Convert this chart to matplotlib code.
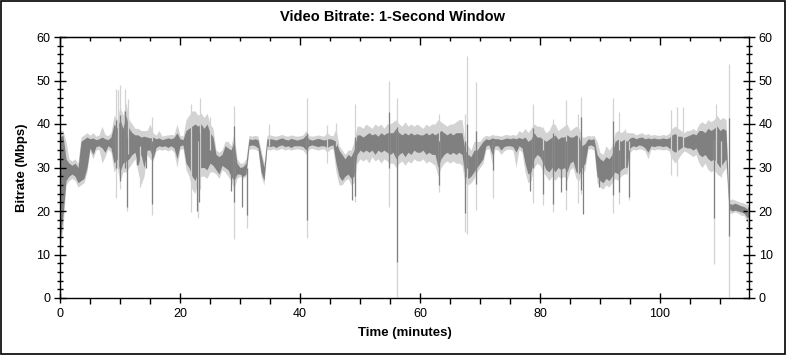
import matplotlib
matplotlib.use('Agg')
import matplotlib.pyplot as plt
import numpy as np

matplotlib.rcParams['font.family'] = ['Liberation Sans', 'DejaVu Sans']

# time grid, one sample every half minute (0 .. 115 min)
time_min = np.arange(0, 115.5, 0.5)

# dark gray band (typical bitrate range), Mbps
dark_lo = [
    13, 19, 27, 28, 28.5, 28, 26.5, 27, 27.5, 30,
    34.5, 33, 34.8, 35, 34.5, 33.5, 35, 34.5, 31, 32,
    29, 31, 31.5, 32, 33, 33.5, 30.5, 33, 30, 34,
    34, 32, 34.6, 35, 34.8, 35, 34.6, 35, 34.5, 32,
    35, 35.2, 31, 30, 28, 27, 29, 30, 30, 29.5,
    31, 30.5, 29.5, 28.5, 30.5, 30, 29.5, 28, 27, 28.5,
    28.5, 28, 28.5, 35, 35.2, 35, 34.5, 29, 27, 35,
    34.8, 35, 34.6, 35, 35.2, 34.8, 35, 34.6, 35, 35,
    35, 34.8, 34, 35, 35.2, 35, 34.8, 35, 35, 34.6,
    35, 35.2, 31, 28, 27, 28, 28.5, 27.5, 28, 33,
    34, 33.5, 34, 33.5, 34, 33, 34, 33.5, 34, 33.5,
    33, 33.5, 32, 33, 33.5, 32.5, 33.5, 33, 34, 33.5,
    33.5, 34, 33, 33.5, 33, 33, 30, 32, 33, 33.5,
    33, 33.5, 33, 33.5, 33, 28, 27.5, 28, 29, 30,
    31, 32, 35, 35.2, 33, 35, 35, 34, 34.8, 35,
    35, 34.8, 33.5, 35, 34.5, 31, 28.5, 29, 32, 33,
    32.5, 31, 29.5, 29, 30, 29, 30, 29.5, 30, 29,
    31, 31.5, 29, 28.5, 30, 31, 35, 35.2, 34.8, 28,
    27, 26.5, 27.5, 27, 28, 29, 28.5, 29.5, 30, 30,
    34.5, 35, 34.8, 35.2, 35, 34.5, 33.5, 35, 34.8, 35,
    35, 34.8, 35, 34.5, 34, 33.5, 34, 34.5, 34.8, 34.5,
    34.5, 34, 34.5, 33, 32.5, 33, 32, 31.5, 32, 31,
    30, 31, 32, 20.5, 20, 20.2, 20, 19.8, 19.5, 18.5, 18.5,
]
dark_hi = [
    37, 37.5, 32, 31, 30.5, 31, 30, 36, 36.5, 37,
    36.6, 36.8, 36.4, 36.6, 37, 36.6, 36.4, 37, 40, 39,
    41, 39, 42, 39, 38, 37.5, 37.5, 37, 37.2, 37,
    36.8, 37, 36.6, 36.8, 36.4, 36.6, 36.8, 36.6, 36.9, 38,
    36.6, 36.4, 38.5, 39, 39.5, 40, 39.5, 40, 39, 40,
    38, 37, 33, 32.5, 33, 35, 34.5, 34, 36, 31,
    30, 30.2, 31, 36.6, 36.4, 36.6, 36.4, 33, 30, 36.6,
    36.6, 36.5, 36.3, 36.6, 36.8, 36.5, 36.3, 36.7, 36.5, 36.3,
    36.5, 36.7, 37.5, 36.5, 36.3, 36.5, 36.7, 36.5, 36.3, 36.6,
    36.6, 36.4, 36, 34, 33, 32, 33, 32.5, 34, 37.5,
    37.5, 37, 37.5, 38, 37.5, 37.8, 37.2, 38, 37.5, 38,
    38, 38, 39, 38, 37.5, 38, 37.5, 38, 37.5, 37.8,
    37.5, 37.5, 38, 37.5, 38, 37.5, 38, 38.5, 38, 37.5,
    38, 37.5, 38, 38, 38, 34, 33, 32.5, 34, 34,
    35, 36, 36.6, 36.4, 36.8, 36.6, 36.6, 36.4, 36.6, 36.8,
    36.6, 36.8, 36.6, 36.9, 36.6, 37, 36, 36.5, 38, 37,
    37, 36.5, 36, 36.5, 37, 37.5, 36.5, 37, 37, 37.5,
    37, 37, 37.5, 37, 35, 35.5, 36.6, 36.4, 36.6, 33,
    32, 31.5, 32.5, 32, 33, 36, 36.5, 36, 36.5, 36,
    36.8, 37, 36.6, 36.9, 37, 36.6, 36.8, 36.6, 36.8, 36.6,
    36.6, 36.8, 36.6, 36.8, 37.5, 37.8, 37.2, 37.2, 36.9, 37.2,
    37.5, 37.8, 37.5, 38.5, 38.5, 38, 39, 38.5, 39, 39.5,
    38.5, 39, 38.5, 21.8, 21.5, 21.8, 21.5, 21.2, 21, 20.5, 20.5,
]

# light gray band (full min/max envelope), Mbps
light_lo = [
    11, 16, 26, 27, 27.5, 27, 25.5, 26, 26.5, 29,
    33.8, 32, 34, 34.2, 31, 32.5, 34.2, 33.5, 29, 30,
    27, 29, 29, 30, 31, 32, 29, 26, 28, 33,
    32, 31.5, 33.8, 34.2, 34, 34.2, 33.8, 34.2, 33.5, 30,
    34.2, 34.3, 29.5, 28, 25, 24, 27, 28, 28, 27.5,
    29, 29, 28.5, 27.5, 29.5, 29, 28, 27, 25, 27.5,
    28, 27.5, 28, 34.2, 34.3, 34.2, 33.8, 28, 26, 34.2,
    34, 34.3, 34, 34.2, 34.4, 34, 34.3, 34, 34.2, 34.3,
    34.2, 34, 33, 34.2, 34.4, 34.2, 34, 34.2, 34.3, 33.5,
    34.2, 34.3, 29, 26, 26, 27, 27.5, 26, 26.5, 31,
    32, 31.5, 32, 31, 32.5, 31.5, 32, 31, 32, 31.5,
    31, 31, 30, 31, 31.5, 30.5, 31.5, 31, 32, 31.5,
    31.5, 32, 31, 31.5, 31, 30.5, 28, 30, 31, 31.5,
    31, 31.5, 31, 31, 30.5, 26.5, 26, 26.5, 27.5, 29,
    30, 31, 34.2, 34.3, 31, 34.2, 34, 33, 33.8, 34.2,
    34.2, 34, 30, 34.2, 33.5, 29, 26.5, 27, 30, 31,
    30.5, 29, 28, 27, 28, 27, 28, 27.5, 28, 27,
    29.5, 30, 27.5, 27, 28.5, 29.5, 34.2, 34.3, 34, 26.5,
    25.5, 25, 26, 25.5, 26.5, 27.5, 27, 28, 28.5, 28.5,
    33.5, 34.2, 34, 34.3, 34.2, 33.8, 32, 34.2, 34, 34.2,
    34.2, 34, 34.2, 33.8, 32, 31, 32, 33, 33.8, 33.5,
    33, 32.5, 33, 31, 30, 31, 29.5, 29, 29.5, 28.5,
    28, 29, 30, 19.5, 19.5, 19.8, 19.5, 19, 19, 17.5, 17.5,
]
light_hi = [
    38.5, 38.5, 36, 32, 31.5, 32, 31, 37, 37.5, 38,
    37.4, 38, 37.2, 37.5, 39.5, 37.6, 37.3, 38, 42, 41,
    44, 42, 45, 41, 40, 39, 39, 38.5, 38.5, 38.5,
    40, 38, 37.4, 38.5, 37.2, 37.4, 37.5, 37.6, 37.5, 40,
    37.4, 37.2, 41, 42, 43, 43, 42, 42.5, 41.5, 42.5,
    40, 39, 34, 33.5, 34, 36, 36, 35, 38, 32,
    31, 31, 32, 37.4, 37.2, 37.4, 37.2, 34, 31, 37.4,
    37.5, 37.3, 37.2, 37.4, 37.6, 37.3, 37.2, 37.5, 37.3, 37.2,
    37.3, 37.5, 38.5, 37.3, 37.2, 37.3, 37.5, 37.3, 37.2, 38,
    37.4, 37.3, 39, 35, 34, 33, 34, 34, 36, 39.5,
    39.5, 39, 40, 39.5, 39, 40, 39.5, 40, 39, 40,
    40, 40.5, 41, 40, 39.5, 40.5, 39.5, 40, 39.5, 40,
    39.5, 39, 40, 39.5, 40, 40, 41, 40.5, 40, 39.5,
    40, 40, 40.5, 41, 41, 36, 35, 34, 36, 36,
    36, 37, 37.4, 37.2, 37.6, 37.4, 37.4, 37.2, 37.5, 37.6,
    37.4, 37.6, 37.4, 38.5, 38, 39, 38, 39, 40, 39.5,
    39.5, 39, 38, 38.5, 40, 40, 38.5, 39, 39.5, 40,
    38.5, 39, 39.5, 39, 37, 37, 37.4, 37.2, 37.4, 36,
    33.5, 33, 35, 34, 35, 38, 38.5, 38, 38.5, 38,
    38, 38, 37.5, 37.8, 38, 37.5, 37.8, 37.4, 37.6, 37.4,
    37.4, 37.6, 37.4, 37.8, 39, 39.5, 39, 38.5, 38, 38.5,
    38.5, 39, 38.5, 40, 40.5, 40, 41, 40.5, 41, 42,
    41, 41.5, 41, 22.5, 22.8, 22.5, 22.2, 22, 21.8, 21.5, 21.5,
]

# single-sample peaks and drops: (minute, low, high)
dark_spikes = [
    (9.3, 30, 41), (10.0, 27, 42), (10.9, 30, 43), (11.2, 21, 37),
    (12.9, 30.5, 36), (14.3, 30, 36), (15.3, 21.5, 36), (22.9, 20, 36),
    (23.1, 22, 38), (28.5, 24.5, 34), (29.0, 22, 39.5), (30.3, 21, 30),
    (31.1, 19, 30), (41.1, 18, 38), (48.6, 22.5, 30), (49.2, 23.5, 37),
    (54.9, 30, 42.7), (56.2, 8.3, 39.3), (63.2, 26, 36), (67.5, 19.5, 36),
    (67.9, 30, 40), (69.3, 26.3, 38.5), (72.1, 29.4, 36), (78.4, 24.5, 34),
    (78.9, 30, 39), (80.5, 24, 34), (82.2, 21.7, 38), (83.5, 24.4, 33),
    (84.4, 24.8, 36), (86.9, 24.8, 41.6), (87.2, 19.3, 33), (89.9, 25.5, 30),
    (92.1, 23.6, 40.7), (93.2, 24.4, 34), (94.8, 23.2, 34), (109.0, 18.4, 36),
    (111.5, 14.2, 41.4), (114.7, 18.6, 21),
]
light_spikes = [
    (9.3, 23, 48), (9.7, 30, 47.8), (10.0, 25, 49), (10.9, 30, 48),
    (11.2, 20, 30), (11.3, 33, 45.7), (13.4, 25.5, 35), (15.3, 19, 41.5),
    (21.9, 19.8, 44.6), (23.0, 18.5, 36), (23.4, 25, 46), (25.0, 34, 41.6),
    (29.0, 13.5, 44.2), (31.1, 16.2, 30), (34.8, 35, 40), (41.1, 13.8, 46),
    (44.5, 31, 39.7), (46.0, 35, 40.2), (49.2, 22, 44.7), (54.9, 21, 50),
    (56.2, 0.2, 46), (63.2, 24.4, 42.2), (67.5, 15.2, 42.4), (67.9, 14.8, 55.6),
    (69.3, 20.2, 49.7), (72.1, 22.9, 36), (78.9, 21.8, 44.7), (80.5, 21.3, 39.3),
    (82.2, 19.8, 41.2), (84.4, 20.3, 45.6), (86.3, 21.8, 42.2), (86.9, 24, 46.2),
    (92.1, 19.5, 46), (93.2, 21.7, 42.7), (94.2, 30, 38.9), (94.8, 22.6, 36),
    (101.9, 28.2, 43.2), (102.8, 28, 44), (103.9, 34, 44), (109.0, 7.8, 36),
    (109.4, 30, 44.7), (110.2, 27.8, 36), (111.5, 0.2, 53.7), (114.7, 16.3, 21),
]

x_ticks = [0, 20, 40, 60, 80, 100]
y_ticks = [0, 10, 20, 30, 40, 50, 60]

LIGHT = '#d3d3d3'
DARK = '#808080'


def draw_pic():
    fig = plt.figure(figsize=(7.86, 3.55), dpi=100)
    fig.patch.set_facecolor('white')
    # thin black frame round the whole picture
    fig.patches.append(plt.Rectangle((0.0015, 0.003), 0.997, 0.994, transform=fig.transFigure,
                                     fill=False, edgecolor='black', linewidth=1.2))
    ax = fig.add_axes([60 / 786, 57 / 355, 689 / 786, 261 / 355])

    ax.fill_between(time_min, light_lo, light_hi, color=LIGHT, linewidth=0)
    ls = np.array(light_spikes)
    ax.vlines(ls[:, 0], ls[:, 1], ls[:, 2], color=LIGHT, linewidth=0.9)

    ax.fill_between(time_min, dark_lo, dark_hi, color=DARK, linewidth=0)
    ds = np.array(dark_spikes)
    ax.vlines(ds[:, 0], ds[:, 1], ds[:, 2], color=DARK, linewidth=0.9)

    ax.set_xlim(0, 114.83)
    ax.set_ylim(0, 60)
    ax.set_xticks(x_ticks)
    ax.set_xticks(np.arange(5, 115, 5), minor=True)
    ax.set_yticks(y_ticks)
    ax.set_yticks(np.arange(0, 61, 2), minor=True)

    ax.tick_params(axis='x', which='major', direction='inout', length=7, width=1,
                   labelsize=9, top=False, pad=4)
    ax.tick_params(axis='x', which='minor', direction='out', length=4, width=1, top=False)
    ax.tick_params(axis='y', which='major', direction='inout', length=8, width=1,
                   labelsize=9, right=True, labelright=True, pad=3)
    ax.tick_params(axis='y', which='minor', direction='inout', length=5, width=1, right=True)

    # top spine carries inward ticks
    top = ax.secondary_xaxis('top')
    top.set_xticks(x_ticks)
    top.set_xticks(np.arange(5, 115, 5), minor=True)
    top.tick_params(which='major', direction='in', length=6, width=1, labeltop=False)
    top.tick_params(which='minor', direction='in', length=3, width=1)

    for s in ax.spines.values():
        s.set_linewidth(1)

    fig.text(0.5, 1 - 17 / 355, 'Video Bitrate: 1-Second Window', ha='center', va='center',
             fontsize=10.5, fontweight='bold')
    ax.set_xlabel('Time (minutes)', fontsize=9.5, fontweight='bold', labelpad=5)
    ax.set_ylabel('Bitrate (Mbps)', fontsize=9.5, fontweight='bold', labelpad=6)

    fig.savefig('out.png', dpi=100)
    plt.close(fig)


def main():
    draw_pic()


if __name__ == '__main__':
    main()
